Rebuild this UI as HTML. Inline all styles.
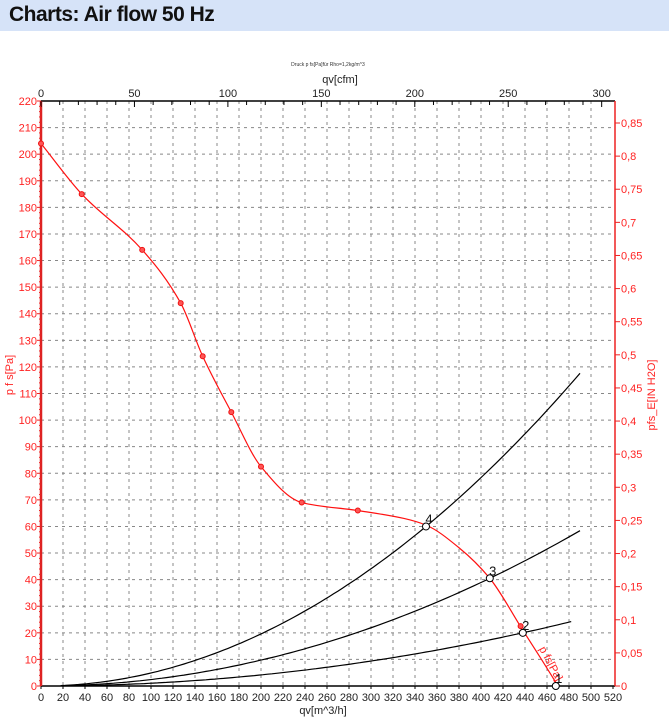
<!DOCTYPE html>
<html><head><meta charset="utf-8"><style>
body{margin:0;background:#fff;width:669px;height:722px;overflow:hidden;font-family:"Liberation Sans",sans-serif}
#hdr{position:absolute;left:0;top:0;width:669px;height:31px;background:#d6e3f8}
#hdr span{position:absolute;left:9px;top:3px;font-size:21px;font-weight:bold;color:#111;letter-spacing:-0.5px}
svg{position:absolute;left:0;top:0}
</style></head><body>
<div id="hdr"><span>Charts: Air flow 50 Hz</span></div>
<svg id="c" width="669" height="722"></svg>
<script>
const fanQ=[0,37,92,127,147,173,200,237,288,330,350,380,408,438,455,470];
const fanP=[204,185,164,144,124,103,82.5,69,66,63,60.5,52,40.5,21,10,0];
const markerQ=[0,37,92,127,147,173,200,237,288,436];
const markerP=[204,185,164,144,124,103,82.5,69,66,22.5];
const opLabels=["1","2","3","4"];
const opQ=[468,438,408,350];
const opP=[0,20,40.5,60];
const sysEndQ=[490,483,490,490];
const xTicks=[0,20,40,60,80,100,120,140,160,180,200,220,240,260,280,300,320,340,360,380,400,420,440,460,480,500,520];
const yTicks=[0,10,20,30,40,50,60,70,80,90,100,110,120,130,140,150,160,170,180,190,200,210,220];
const cfmTicks=[0,50,100,150,200,250,300];
const inTicks=[0,0.05,0.1,0.15,0.2,0.25,0.3,0.35,0.4,0.45,0.5,0.55,0.6,0.65,0.7,0.75,0.8,0.85];

const X0=41,X1=613,Y0=686,Y1=101;
const xs=q=>X0+q*(X1-X0)/520;
const ys=p=>Y0-p*(Y0-Y1)/220;
const svg=document.getElementById('c');
const NS='http://www.w3.org/2000/svg';
function mk(t,a,parent){const e=document.createElementNS(NS,t);for(const k in a)e.setAttribute(k,a[k]);(parent||svg).appendChild(e);return e;}
function txt(s,x,y,a){const e=mk('text',Object.assign({x:x,y:y,'font-family':'Liberation Sans, sans-serif','font-size':11},a));e.textContent=s;return e;}

const grid=mk('g',{stroke:'#888','stroke-width':1,'stroke-dasharray':'3,4'});


xTicks.forEach(q=>{if(q>0&&q<520){mk('line',{x1:xs(q),x2:xs(q),y1:Y1,y2:Y0},grid);}});
yTicks.forEach(p=>{if(p>0&&p<220){mk('line',{x1:X0,x2:615,y1:ys(p),y2:ys(p)},grid);}});

let e;
e=mk('line',{x1:X0,x2:615,y1:Y1,y2:Y1,stroke:'#000','stroke-width':1.5});

e=mk('line',{x1:X0,x2:615,y1:Y0,y2:Y0,stroke:'#000','stroke-width':1.5});

e=mk('line',{x1:X0,x2:X0,y1:Y1,y2:Y0,stroke:'#d22','stroke-width':2.5});

e=mk('line',{x1:615,x2:615,y1:Y1,y2:Y0,stroke:'#e22','stroke-width':1.5});


xTicks.forEach(q=>{
  mk('line',{x1:xs(q),x2:xs(q),y1:Y0,y2:Y0+3,stroke:'#000'});
  e=txt(String(q),xs(q),Y0+15,{'text-anchor':'middle',fill:'#222','font-size':11});
  
});
e=txt('qv[m^3/h]',xs(260)-4,Y0+28,{'text-anchor':'middle',fill:'#222','font-size':11});

const cfmToQ=1.699;
for(let c=0;c<=300;c+=10){mk('line',{x1:xs(c*cfmToQ),x2:xs(c*cfmToQ),y1:Y1,y2:Y1+(c%50?4:6),stroke:'#000'});}
cfmTicks.forEach(c=>{
  e=txt(String(c),xs(c*cfmToQ),Y1-4,{'text-anchor':'middle',fill:'#222','font-size':11});
  
});
e=txt('qv[cfm]',xs(160*cfmToQ),Y1-18,{'text-anchor':'middle',fill:'#222','font-size':11});

e=txt('Druck p fs[Pa]für Rho=1,2kg/m^3',328,66,{'text-anchor':'middle',fill:'#333','font-size':5});

for(let p=0;p<=220;p+=2){mk('line',{x1:X0-(p%10?2:4),x2:X0,y1:ys(p),y2:ys(p),stroke:'#e22'});}
yTicks.forEach(p=>{
  e=txt(String(p),X0-4,ys(p)+4,{'text-anchor':'end',fill:'#f22','font-size':11});
  
});
e=txt('p f s[Pa]',0,0,{'text-anchor':'middle',fill:'#f22','font-size':11,transform:'translate(13,375) rotate(-90)'});

inTicks.forEach(v=>{
  const y=ys(v*249.09);
  mk('line',{x1:615,x2:620,y1:y,y2:y,stroke:'#e22'});
  e=txt(v===0?'0':String(v).replace('.',','),621,y+4,{fill:'#f22','font-size':11});
  
});
e=txt('pfs_E[IN H2O]',0,0,{'text-anchor':'middle',fill:'#f22','font-size':11,transform:'translate(655,395) rotate(-90)'});


opQ.forEach((q0,i)=>{
  if(opP[i]<=0)return;
  const k=opP[i]/(q0*q0);let d='';
  for(let q=18;q<=sysEndQ[i];q+=4){d+=(d?'L':'M')+xs(q).toFixed(1)+','+ys(k*q*q).toFixed(1);}
  e=mk('path',{d:d,fill:'none',stroke:'#000','stroke-width':1.2});
  
});

// fan curve: monotone cubic (Fritsch-Carlson)
const n=fanQ.length,dl=[],m=[];
for(let i=0;i<n-1;i++)dl.push((fanP[i+1]-fanP[i])/(fanQ[i+1]-fanQ[i]));
m[0]=dl[0];m[n-1]=dl[n-2];
for(let i=1;i<n-1;i++){m[i]=(dl[i-1]*dl[i]<=0)?0:(3*(fanQ[i+1]-fanQ[i-1]))/((2*fanQ[i+1]-fanQ[i]-fanQ[i-1])/dl[i-1]+(fanQ[i+1]+fanQ[i]-2*fanQ[i-1])/dl[i]);}
let d='M'+xs(fanQ[0])+','+ys(fanP[0]);
for(let i=0;i<n-1;i++){
  const h=fanQ[i+1]-fanQ[i];
  const c1q=fanQ[i]+h/3,c1p=fanP[i]+m[i]*h/3,c2q=fanQ[i+1]-h/3,c2p=fanP[i+1]-m[i+1]*h/3;
  d+='C'+xs(c1q)+','+ys(c1p)+' '+xs(c2q)+','+ys(c2p)+' '+xs(fanQ[i+1])+','+ys(fanP[i+1]);
}
e=mk('path',{d:d,fill:'none',stroke:'#f11','stroke-width':1.2});

markerQ.forEach((q,i)=>{
  e=mk('circle',{cx:xs(q),cy:ys(markerP[i]),r:2.5,fill:'#f55',stroke:'#e11','stroke-width':1});
  
});
e=txt('p fs[Pa]',0,0,{fill:'#f22','font-size':11,transform:'translate('+(xs(460)-8)+','+(ys(14))+') rotate(62)'});


opQ.forEach((q,i)=>{
  e=mk('circle',{cx:xs(q),cy:ys(opP[i]),r:3.5,fill:'#fff',stroke:'#000','stroke-width':1});
  
  e=txt(opLabels[i],xs(q)+3,ys(opP[i])-3,{'text-anchor':'middle',fill:'#111','font-size':13});
  
});
</script>
</body></html>
